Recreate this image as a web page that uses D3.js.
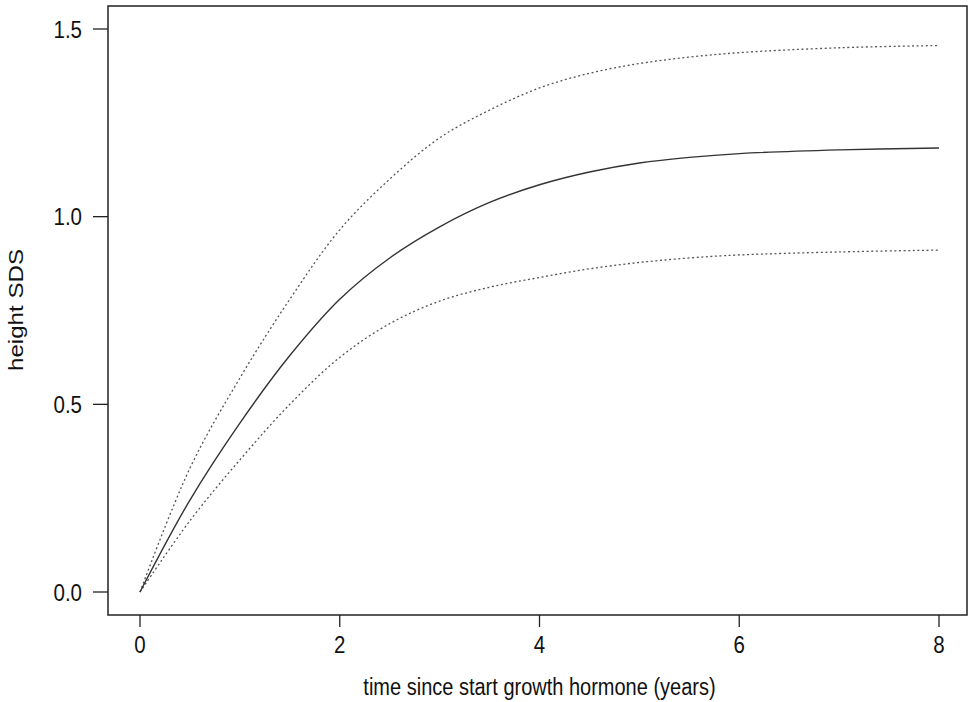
<!DOCTYPE html>
<html>
<head>
<meta charset="utf-8">
<script src="https://cdn.jsdelivr.net/npm/d3@7"></script>
<style>
  html, body { margin: 0; padding: 0; background: #fff; }
  svg { display: block; }
  text { font-family: "Liberation Sans", Arial, sans-serif; fill: #111; }
</style>
</head>
<body>
<svg id="chart" width="968" height="702"></svg>
<script>
// ---- data ----
const years = [0, 0.5, 1, 1.5, 2, 2.5, 3, 3.5, 4, 4.5, 5, 5.5, 6, 7, 8];
const meanSDS  = [0, 0.245, 0.45, 0.63, 0.78, 0.89, 0.973, 1.038, 1.085, 1.119, 1.143, 1.158, 1.168, 1.178, 1.183];
const upperSDS = [0, 0.33, 0.57, 0.78, 0.965, 1.10, 1.21, 1.284, 1.343, 1.382, 1.408, 1.425, 1.437, 1.450, 1.456];
const lowerSDS = [0, 0.19, 0.352, 0.50, 0.625, 0.715, 0.775, 0.812, 0.838, 0.861, 0.878, 0.890, 0.898, 0.906, 0.911];
const xTicks = [0, 2, 4, 6, 8];
const yTicks = [0.0, 0.5, 1.0, 1.5];
const xLabel = "time since start growth hormone (years)";
const yLabel = "height SDS";

const svg = d3.select("#chart");
const stretch = 1.15;

const x = d3.scaleLinear().domain([0, 8]).range([140, 939]);
const y = d3.scaleLinear().domain([0, 1.5]).range([592, 29]);

// plot box
const box = {left: 108, right: 967, top: 6, bottom: 615};
svg.append("rect")
  .attr("x", box.left).attr("y", box.top)
  .attr("width", box.right - box.left).attr("height", box.bottom - box.top)
  .attr("fill", "none").attr("stroke", "#222").attr("stroke-width", 1.5);

// x axis (ticks below the box)
const xAxis = svg.append("g").attr("transform", `translate(0,${box.bottom})`);
xAxis.selectAll("line").data(xTicks).join("line")
  .attr("x1", d => x(d)).attr("x2", d => x(d))
  .attr("y1", 0).attr("y2", 12)
  .attr("stroke", "#222").attr("stroke-width", 1.3);
xAxis.selectAll("text").data(xTicks).join("text")
  .attr("text-anchor", "middle")
  .attr("font-size", 20.5)
  .attr("transform", d => `translate(${x(d)},38) scale(1,${stretch})`)
  .text(d => d3.format("d")(d));

// y axis (ticks left of the box)
const yAxis = svg.append("g").attr("transform", `translate(${box.left},0)`);
yAxis.selectAll("line").data(yTicks).join("line")
  .attr("x1", -15).attr("x2", 0)
  .attr("y1", d => y(d)).attr("y2", d => y(d))
  .attr("stroke", "#222").attr("stroke-width", 1.3);
yAxis.selectAll("text").data(yTicks).join("text")
  .attr("text-anchor", "end")
  .attr("font-size", 20.5)
  .attr("transform", d => `translate(-26,${y(d) + 8.5}) scale(1,${stretch})`)
  .text(d => d3.format(".1f")(d));

// axis titles
svg.append("text")
  .attr("text-anchor", "middle")
  .attr("font-size", 20)
  .attr("transform", `translate(${(x(0) + x(8)) / 2},695) scale(1,${stretch})`)
  .text(xLabel);
svg.append("text")
  .attr("text-anchor", "middle")
  .attr("font-size", 21)
  .attr("transform", `translate(23,310) rotate(-90) scale(${stretch},1)`)
  .text(yLabel);

// curves
const line = d3.line()
  .x((d, i) => x(years[i]))
  .y(d => y(d))
  .curve(d3.curveCatmullRom.alpha(0.5));

svg.append("path").datum(upperSDS).attr("d", line)
  .attr("fill", "none").attr("stroke", "#555").attr("stroke-width", 1.3)
  .attr("stroke-dasharray", "2,2.6");
svg.append("path").datum(lowerSDS).attr("d", line)
  .attr("fill", "none").attr("stroke", "#555").attr("stroke-width", 1.3)
  .attr("stroke-dasharray", "2,2.6");
svg.append("path").datum(meanSDS).attr("d", line)
  .attr("fill", "none").attr("stroke", "#333").attr("stroke-width", 1.4);
</script>
</body>
</html>
